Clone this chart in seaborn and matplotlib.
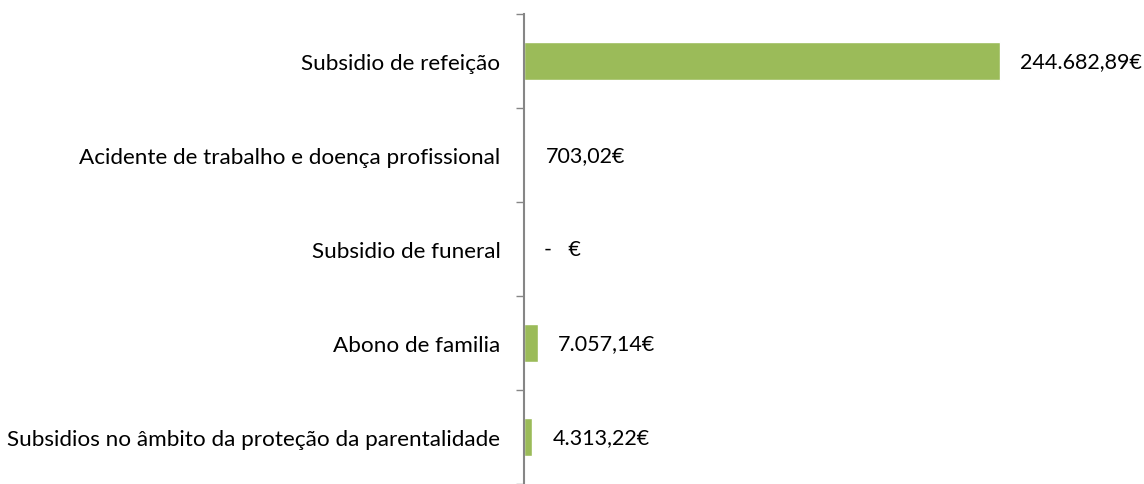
import pandas as pd
import matplotlib.pyplot as plt
import seaborn as sns

# Chart data
categories = [
    "Subsidio de refeição",
    "Acidente de trabalho e doença profissional",
    "Subsidio de funeral",
    "Abono de familia",
    "Subsidios no âmbito da proteção da parentalidade",
]
values = [244682.89, 703.02, 0.0, 7057.14, 4313.22]

df = pd.DataFrame({"categoria": categories, "valor": values})


def fmt_euro(v):
    if v == 0:
        return "-   €"
    s = f"{v:,.2f}"
    s = s.replace(",", "X").replace(".", ",").replace("X", ".")
    return s + "€"


sns.set_style("white")
plt.rcParams["font.family"] = ["Lato", "DejaVu Sans"]

fig = plt.figure(figsize=(11.44, 4.85), dpi=100)
ax = fig.add_axes([524 / 1144, 0.0, (1144 - 524) / 1144, (485 - 15) / 485])

sns.barplot(data=df, x="valor", y="categoria", orient="h", color="#9BBB59",
            width=0.4, saturation=1, ax=ax)

# scale: 244682.89 reaches ~476 px from the axis
ax.set_xlim(0, 244682.89 * 620 / 476)
ax.set_ylim(len(categories) - 0.5, -0.5)

for i, v in enumerate(values):
    ax.annotate(fmt_euro(v), xy=(v, i), xytext=(14.5, 0), textcoords="offset points",
                va="center", ha="left", fontsize=15.5, color="black")

ax.set_xlabel("")
ax.set_ylabel("")
ax.set_xticks([])
for s in ["top", "right", "bottom"]:
    ax.spines[s].set_visible(False)
ax.spines["left"].set_color("#868686")
ax.spines["left"].set_linewidth(1.5)

ax.set_yticks([i - 0.5 for i in range(len(categories) + 1)], minor=True)
ax.tick_params(axis="y", which="minor", left=True, length=6, width=1,
               color="#868686", direction="out")
ax.tick_params(axis="y", which="major", left=True, length=0, pad=17,
               labelsize=16.2, labelcolor="black")

fig.savefig("out.png", dpi=100)
